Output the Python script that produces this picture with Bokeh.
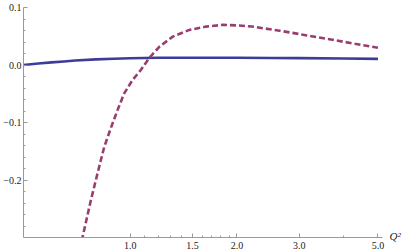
from bokeh.plotting import figure
from bokeh.models import FixedTicker, Range1d, LinearAxis
from bokeh.embed import file_html
from bokeh.resources import INLINE

# Data
blue_x = [0.5, 0.55, 0.6, 0.65, 0.7, 0.8, 0.9, 1.0, 1.2, 1.5, 2.0, 2.5, 3.0, 4.0, 5.0]
blue_y = [0.0, 0.0025, 0.0045, 0.0062, 0.0078, 0.0097, 0.0109, 0.0117, 0.0125, 0.0127, 0.0126, 0.0123, 0.0119, 0.0113, 0.0107]

purple_x = [0.72, 0.7336, 0.7743, 0.8087, 0.8447, 0.8816, 0.9208, 0.9618, 1.015, 1.0712, 1.133,
            1.21, 1.319, 1.47, 1.638, 1.824, 2.03, 2.2, 2.4, 2.64, 3.0, 3.65, 4.3, 5.0]
purple_y = [-0.321, -0.2997, -0.2356, -0.1885, -0.1426, -0.1099, -0.0785, -0.0494, -0.0262, -0.0087, 0.0127,
            0.032, 0.0494, 0.0611, 0.0668, 0.0698, 0.0686, 0.067, 0.0635, 0.0597, 0.0538, 0.0447, 0.037, 0.030]

x_ticks = [1.0, 1.5, 2.0, 3.0, 5.0]
x_minor = [1.1, 1.2, 1.3, 1.4, 1.6, 1.7, 1.8, 1.9, 4.0]
x_labels = {1.0: "1.0", 1.5: "1.5", 2.0: "2.0", 3.0: "3.0", 5.0: "5.0"}
y_ticks = [-0.2, -0.1, 0.0, 0.1]
y_minor = [-0.28, -0.26, -0.24, -0.22, -0.18, -0.16, -0.14, -0.12, -0.08, -0.06, -0.04, -0.02,
           0.02, 0.04, 0.06, 0.08]
y_labels = {-0.2: "\u22120.2", -0.1: "\u22120.1", 0.0: "0.0", 0.1: "0.1"}
x_title = "Q\u00b2"

p = figure(frame_width=359, frame_height=230, x_axis_type="log",
           x_range=Range1d(0.5, 5.15), y_range=Range1d(-0.3, 0.1),
           output_backend="svg", toolbar_location=None,
           min_border_left=20, min_border_right=22, min_border_top=7, min_border_bottom=15)
p.outline_line_color = None
p.xgrid.visible = False
p.ygrid.visible = False

p.line(blue_x, blue_y, line_color="#3d3d99", line_width=2.6)
p.line(purple_x, purple_y, line_color="#993d71", line_width=2.6, line_dash="6 3")

axis_col = "#999999"
font = "Liberation Serif"
for ax in (p.xaxis[0], p.yaxis[0]):
    ax.axis_line_color = axis_col
    ax.major_tick_line_color = axis_col
    ax.minor_tick_line_color = axis_col
    ax.major_tick_in = 4
    ax.major_tick_out = 0
    ax.minor_tick_in = 2
    ax.minor_tick_out = 0
    ax.major_label_text_font = font
    ax.major_label_text_font_size = "10px"
    ax.major_label_text_color = "#222222"
p.xaxis.major_label_standoff = 4
p.yaxis.major_label_standoff = 2

p.xaxis.ticker = FixedTicker(ticks=x_ticks, minor_ticks=x_minor)
p.xaxis.major_label_overrides = x_labels
p.yaxis.ticker = FixedTicker(ticks=y_ticks, minor_ticks=y_minor)
p.yaxis.major_label_overrides = y_labels

# "Q²" title at the right end of the x axis, as a right-side axis label
q_axis = LinearAxis(ticker=FixedTicker(ticks=[-0.297]), major_label_overrides={-0.297: x_title})
q_axis.axis_line_color = None
q_axis.major_tick_line_color = None
q_axis.minor_tick_line_color = None
q_axis.major_tick_in = 0
q_axis.major_tick_out = 0
q_axis.minor_tick_in = 0
q_axis.minor_tick_out = 0
q_axis.major_label_text_font = font
q_axis.major_label_text_font_style = "italic"
q_axis.major_label_text_font_size = "11px"
q_axis.major_label_text_color = "#222222"
q_axis.major_label_standoff = 7
p.add_layout(q_axis, "right")

open("out.html", "w").write(file_html(p, INLINE))
